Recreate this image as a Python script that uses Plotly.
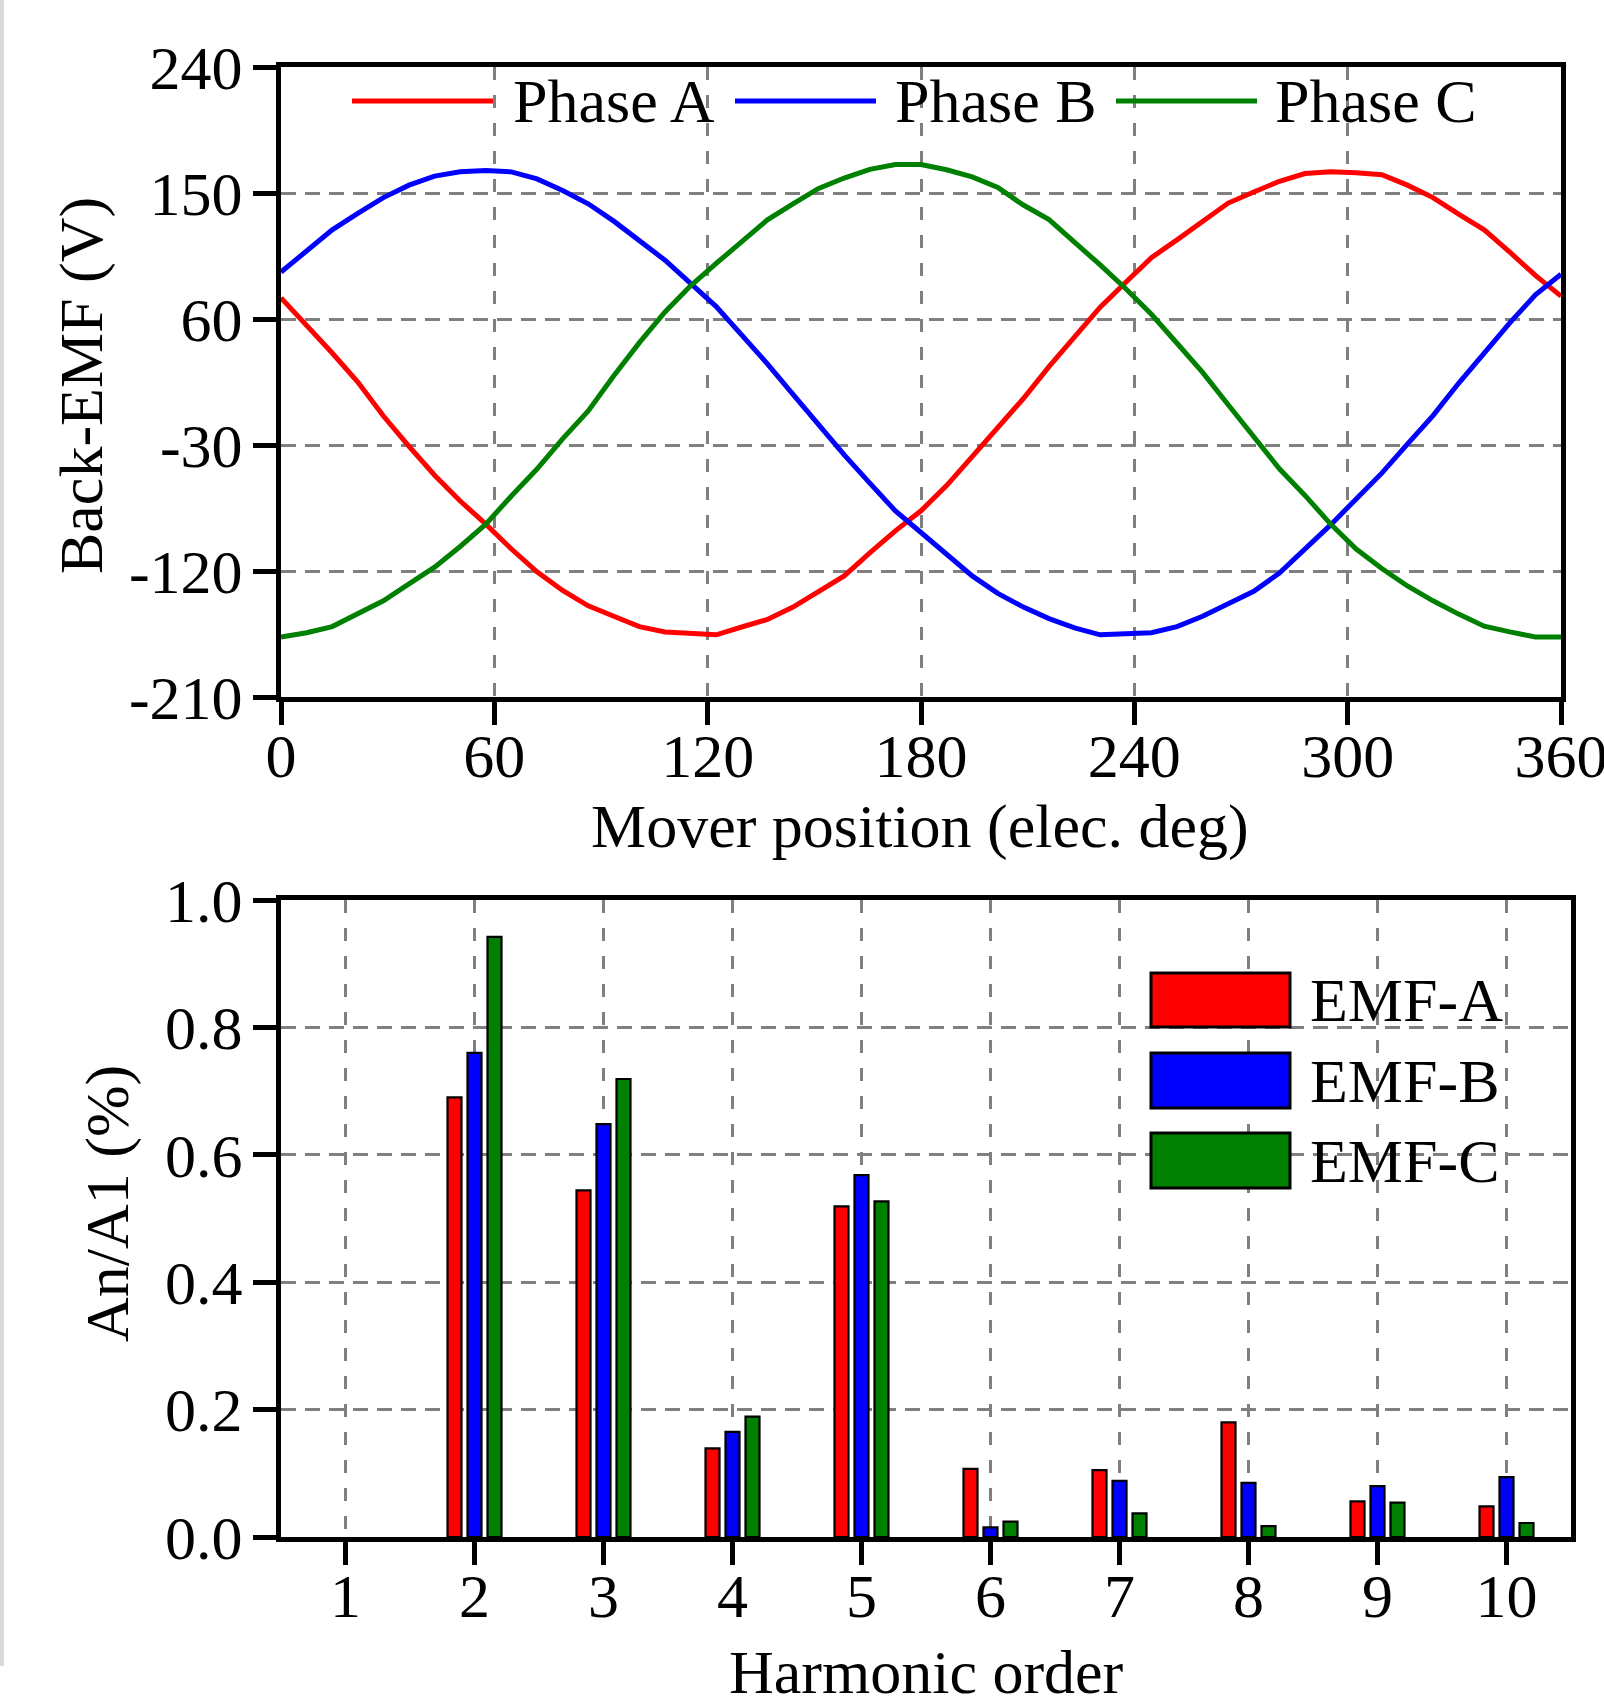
import plotly.graph_objects as go

# ---------------- data ----------------
position_deg = [0, 7.2, 14.4, 21.6, 28.8, 36, 43.2, 50.4, 57.6, 64.8, 72, 79.2, 86.4,
                93.6, 100.8, 108, 115.2, 122.4, 129.6, 136.8, 144, 151.2, 158.4, 165.6,
                172.8, 180, 187.2, 194.4, 201.6, 208.8, 216, 223.2, 230.4, 237.6, 244.8,
                252, 259.2, 266.4, 273.6, 280.8, 288, 295.2, 302.4, 309.6, 316.8, 324,
                331.2, 338.4, 345.6, 352.8, 360]

phase_a = [75.1, 55.6, 35.7, 15.0, -9.3, -30.9, -51.6, -70.0, -86.5, -104.3, -120.6, -133.9,
           -144.9, -152.3, -159.7, -163.5, -164.7, -165.6, -160.0, -154.6, -145.8, -134.5,
           -123.5, -107.0, -91.3, -77.0, -59.0, -38.3, -17.6, 3.2, 26.0, 47.0, 68.4, 86.2,
           103.8, 116.5, 129.8, 142.8, 150.7, 158.4, 163.9, 165.1, 164.5, 163.0, 155.6,
           146.7, 134.9, 123.7, 107.7, 91.1, 76.3]

phase_b = [93.5, 108.9, 123.7, 135.5, 146.7, 155.6, 162.1, 165.1, 166.0, 165.1, 160.1, 151.8,
           142.3, 129.9, 116.0, 102.0, 85.5, 68.9, 48.5, 28.0, 6.1, -15.5, -37.1, -57.2,
           -77.1, -92.5, -107.9, -123.5, -136.0, -145.8, -154.0, -160.6, -165.6, -165.0,
           -164.1, -159.7, -152.3, -143.4, -134.5, -121.5, -104.9, -87.1, -68.5, -50.1,
           -29.4, -9.0, 14.1, 35.7, 57.3, 77.2, 92.0]

phase_c = [-167.1, -164.1, -159.7, -150.8, -141.3, -129.2, -117.3, -102.5, -86.5, -66.4,
           -47.2, -25.6, -5.7, 19.4, 43.1, 65.0, 83.7, 99.7, 114.8, 130.8, 142.3, 153.3,
           160.7, 166.9, 170.4, 170.4, 166.6, 161.5, 153.9, 141.4, 131.0, 115.3, 98.6,
           81.6, 63.4, 42.7, 21.9, -1.2, -24.7, -47.0, -66.0, -86.5, -104.3, -118.2,
           -130.7, -141.3, -150.8, -159.4, -163.5, -167.1, -167.1]

harmonic_order = [1, 2, 3, 4, 5, 6, 7, 8, 9, 10]
emf_a = [None, 0.690, 0.544, 0.139, 0.519, 0.107, 0.105, 0.180, 0.056, 0.048]
emf_b = [None, 0.760, 0.648, 0.165, 0.568, 0.015, 0.088, 0.085, 0.080, 0.094]
emf_c = [None, 0.942, 0.719, 0.189, 0.527, 0.024, 0.037, 0.017, 0.054, 0.022]

top_yticks = [-210, -120, -30, 60, 150, 240]
top_yticktext = ["-210", "-120", "-30", "60", "150", "240"]
top_xticks = [0, 60, 120, 180, 240, 300, 360]
bot_yticks = [0.0, 0.2, 0.4, 0.6, 0.8, 1.0]

line_names = ["Phase A", "Phase B", "Phase C"]
bar_names = ["EMF-A", "EMF-B", "EMF-C"]
colors = ["#ff0000", "#0000ff", "#008000"]

# ---------------- figure ----------------
W, H = 1604, 1699
FONT = "Liberation Serif"
FS = 62


def px(x):
    return x / W


def py(y):
    return 1 - y / H


fig = go.Figure()

for name, vals, col in zip(line_names, [phase_a, phase_b, phase_c], colors):
    fig.add_trace(go.Scatter(x=position_deg, y=vals, mode="lines", name=name,
                             line=dict(color=col, width=5), xaxis="x", yaxis="y",
                             showlegend=False))

for name, vals, col in zip(bar_names, [emf_a, emf_b, emf_c], colors):
    fig.add_trace(go.Bar(x=harmonic_order, y=vals, name=name, marker_color=col,
                         marker_line=dict(color="black", width=2.2),
                         xaxis="x2", yaxis="y2", showlegend=False))

axis_common = dict(showline=True, linecolor="black", linewidth=5, mirror=True,
                   ticks="outside", ticklen=23, tickwidth=5, tickcolor="black",
                   tickfont=dict(family=FONT, size=FS, color="black"),
                   showgrid=True, gridcolor="#808080", gridwidth=3,
                   zeroline=False, automargin=False)

fig.update_layout(
    width=W, height=H,
    margin=dict(l=0, r=0, t=0, b=0),
    paper_bgcolor="white", plot_bgcolor="white",
    barmode="group", bargap=0.535, bargroupgap=0.3,
    font=dict(family=FONT, size=FS, color="black"),
    xaxis=dict(axis_common, domain=[px(281), px(1561)], range=[0, 360],
               tickvals=top_xticks, griddash="13px,15px", anchor="y",
               ticklabeloverflow="allow", ticklabelstandoff=-22),
    yaxis=dict(axis_common, domain=[py(697), py(67)], range=[-210, 240],
               tickvals=top_yticks, ticktext=top_yticktext, griddash="15px,9px",
               anchor="x", ticklabelstandoff=-2),
    xaxis2=dict(axis_common, domain=[px(281), px(1571)], range=[0.5, 10.5],
                tickvals=harmonic_order, griddash="13px,15px", anchor="y2",
                ticklabelstandoff=-22),
    yaxis2=dict(axis_common, domain=[py(1537), py(900)], range=[0, 1],
                tickvals=bot_yticks, tickformat=".1f", griddash="15px,9px",
                anchor="x2", ticklabelstandoff=-2),
)

annotations = []
shapes = []

# axis titles
annotations.append(dict(text="Mover position (elec. deg)", x=px(920), y=py(826),
                        xref="paper", yref="paper", showarrow=False,
                        xanchor="center", yanchor="middle",
                        font=dict(family=FONT, size=FS, color="black")))
annotations.append(dict(text="Back-EMF (V)", x=px(81), y=py(386), textangle=-90,
                        xref="paper", yref="paper", showarrow=False,
                        xanchor="center", yanchor="middle",
                        font=dict(family=FONT, size=FS, color="black")))
annotations.append(dict(text="Harmonic order", x=px(927), y=py(1672),
                        xref="paper", yref="paper", showarrow=False,
                        xanchor="center", yanchor="middle",
                        font=dict(family=FONT, size=FS, color="black")))
annotations.append(dict(text="An/A1 (%)", x=px(107), y=py(1203), textangle=-90,
                        xref="paper", yref="paper", showarrow=False,
                        xanchor="center", yanchor="middle",
                        font=dict(family=FONT, size=FS, color="black")))

# top legend (lines)
top_leg = [(352, 493, 511), (735, 876, 893), (1116, 1257, 1273)]
for (x0, x1, xt), name, col in zip(top_leg, line_names, colors):
    shapes.append(dict(type="line", xref="paper", yref="paper",
                       x0=px(x0), x1=px(x1), y0=py(101), y1=py(101),
                       line=dict(color=col, width=5), layer="above"))
    annotations.append(dict(text=name, x=px(xt), y=py(101), xref="paper", yref="paper",
                            showarrow=False, xanchor="left", yanchor="middle",
                            font=dict(family=FONT, size=FS, color="black")))

# bottom legend (boxes)
box_rows = [(973, 1027), (1053, 1108), (1133, 1188)]
for (y0, y1), name, col in zip(box_rows, bar_names, colors):
    shapes.append(dict(type="rect", xref="paper", yref="paper",
                       x0=px(1151), x1=px(1290), y0=py(y1), y1=py(y0),
                       fillcolor=col, line=dict(color="black", width=3), layer="above"))
    annotations.append(dict(text=name, x=px(1308), y=py((y0 + y1) / 2), xref="paper",
                            yref="paper", showarrow=False, xanchor="left",
                            yanchor="middle",
                            font=dict(family=FONT, size=FS, color="black")))

# faint page border at left
shapes.append(dict(type="line", xref="paper", yref="paper", x0=px(2), x1=px(2),
                   y0=py(1666), y1=1, line=dict(color="#d9d9d9", width=4)))

fig.update_layout(annotations=annotations, shapes=shapes)

fig.write_html("out.html", config={"displayModeBar": False},
               post_script="document.body.style.margin='0px';")
